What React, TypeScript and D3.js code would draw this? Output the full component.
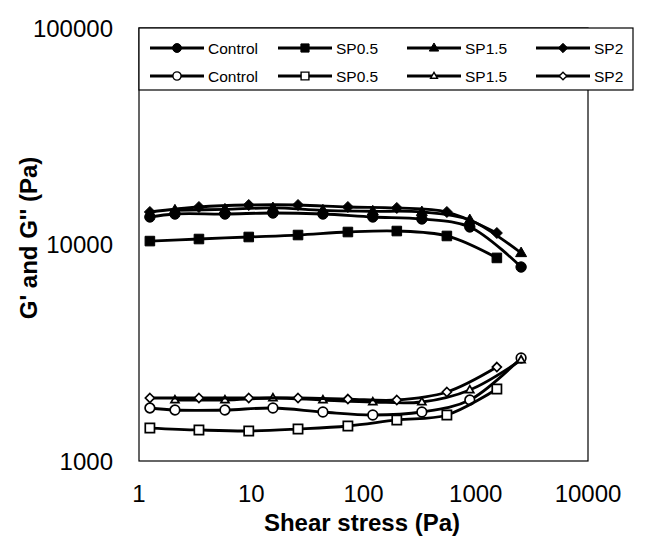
import React from "react";
import * as d3 from "d3";

// shear stress steps (two interleaved sweeps)
const xA = [1.25, 3.42, 9.5, 26.1, 72.6, 198, 553, 1542];
const xB = [2.09, 5.83, 15.6, 43.5, 121, 331, 885, 2535];
const xCtrl = [1.25, 2.09, 5.83, 15.6, 43.5, 121, 331, 885, 2535];

// G' (storage)
const ctrlG1 = [13400, 13830, 13830, 13980, 13830, 13400, 13120, 12050, 7870];
const sp05G1 = [10370, 10600, 10830, 11060, 11420, 11540, 10950, 8670];
const sp15G1 = [14390, 14540, 14750, 14390, 14240, 14130, 12980, 9135];
const sp2G1 = [14130, 14900, 15220, 15220, 14900, 14750, 14130, 11300];

// G'' (loss)
const ctrlG2 = [1757, 1720, 1720, 1757, 1684, 1631, 1684, 1913, 2990];
const sp05G2 = [1420, 1391, 1376, 1405, 1451, 1547, 1631, 2151];
const sp15G2 = [1913, 1913, 1954, 1913, 1873, 1873, 2129, 2927];
const sp2G2 = [1954, 1954, 1954, 1954, 1933, 1913, 2083, 2716];

const xTicks = [1, 10, 100, 1000, 10000];
const yTicks = [1000, 10000, 100000];
const legendNames = ["Control", "SP0.5", "SP1.5", "SP2"];

const W = 670, H = 538;
const L = 139, R = 588, T = 28, B = 461;
const FONT = "Liberation Sans, Arial, sans-serif";

type Shape = "circle" | "square" | "triangle" | "diamond";

function markerPath(shape: Shape, cx: number, cy: number, s: number) {
  const p = d3.path();
  if (shape === "circle") {
    p.moveTo(cx + s, cy);
    p.arc(cx, cy, s, 0, Math.PI * 2);
  } else if (shape === "square") {
    p.rect(cx - s, cy - s, s * 2, s * 2);
  } else if (shape === "triangle") {
    const h = s * 1.732;
    p.moveTo(cx, cy - h * 0.62);
    p.lineTo(cx + s, cy + h * 0.38);
    p.lineTo(cx - s, cy + h * 0.38);
  } else {
    p.moveTo(cx, cy - s);
    p.lineTo(cx + s, cy);
    p.lineTo(cx, cy + s);
    p.lineTo(cx - s, cy);
  }
  p.closePath();
  return p.toString();
}

const series = [
  { xs: xCtrl, ys: ctrlG1, shape: "circle" as Shape, open: false, size: 5.2 },
  { xs: xA, ys: sp05G1, shape: "square" as Shape, open: false, size: 4.8 },
  { xs: xB, ys: sp15G1, shape: "triangle" as Shape, open: false, size: 5.5 },
  { xs: xA, ys: sp2G1, shape: "diamond" as Shape, open: false, size: 5.5 },
  { xs: xCtrl, ys: ctrlG2, shape: "circle" as Shape, open: true, size: 4.8 },
  { xs: xA, ys: sp05G2, shape: "square" as Shape, open: true, size: 4.6 },
  { xs: xB, ys: sp15G2, shape: "triangle" as Shape, open: true, size: 4 },
  { xs: xA, ys: sp2G2, shape: "diamond" as Shape, open: true, size: 4.5 },
];

export default function App() {
  const x = d3.scaleLog().domain([1, 10000]).range([L, R]);
  const y = d3.scaleLog().domain([1000, 100000]).range([B, T]);
  const line = d3
    .line<[number, number]>()
    .x((d) => x(d[0]))
    .y((d) => y(d[1]))
    .curve(d3.curveCatmullRom.alpha(0.5));

  const legendX = [150, 278, 407, 536];
  const legendY = [48, 76];

  return (
    <svg
      width={W}
      height={H}
      style={{ position: "absolute", left: 0, top: 0, background: "#fff" }}
      fontFamily={FONT}
    >
      <rect x={L} y={T} width={R - L} height={B - T} fill="none" stroke="#000" strokeWidth={1.2} />

      {series.map((s, i) => {
        const pts = s.xs.map((v, j) => [v, s.ys[j]] as [number, number]);
        return (
          <g key={i}>
            <path d={line(pts) || ""} fill="none" stroke="#000" strokeWidth={2.8} />
            {pts.map((d, j) => (
              <path
                key={j}
                d={markerPath(s.shape, x(d[0]), y(d[1]), s.size)}
                fill={s.open ? "#fff" : "#000"}
                stroke="#000"
                strokeWidth={s.open ? 1.7 : 1}
              />
            ))}
          </g>
        );
      })}

      {/* legend */}
      <rect x={L} y={T} width={633 - L} height={62} fill="#fff" stroke="#000" strokeWidth={1.2} />
      {legendY.map((ly, r) =>
        legendNames.map((name, c) => {
          const s = series[r * 4 + c];
          const lx = legendX[c];
          return (
            <g key={`${r}-${c}`}>
              <line x1={lx} x2={lx + 54} y1={ly} y2={ly} stroke="#000" strokeWidth={2.8} />
              <path
                d={markerPath(s.shape, lx + 27, ly, s.size * 0.85)}
                fill={s.open ? "#fff" : "#000"}
                stroke="#000"
                strokeWidth={s.open ? 1.4 : 1}
              />
              <text x={lx + 58} y={ly + 5.5} fontSize={15.5} fill="#000">
                {name}
              </text>
            </g>
          );
        })
      )}

      {/* axes labels */}
      {yTicks.map((t) => (
        <text key={t} x={113} y={y(t) + 8.5} textAnchor="end" fontSize={24} fill="#000">
          {t}
        </text>
      ))}
      {xTicks.map((t) => (
        <text key={t} x={x(t)} y={502} textAnchor="middle" fontSize={24} fill="#000">
          {t}
        </text>
      ))}
      <text x={362} y={531} textAnchor="middle" fontSize={24} fontWeight="bold" fill="#000">
        Shear stress (Pa)
      </text>
      <text
        transform={`translate(37,238) rotate(-90)`}
        textAnchor="middle"
        fontSize={24}
        fontWeight="bold"
        fill="#000"
      >
        G' and G'' (Pa)
      </text>
    </svg>
  );
}
